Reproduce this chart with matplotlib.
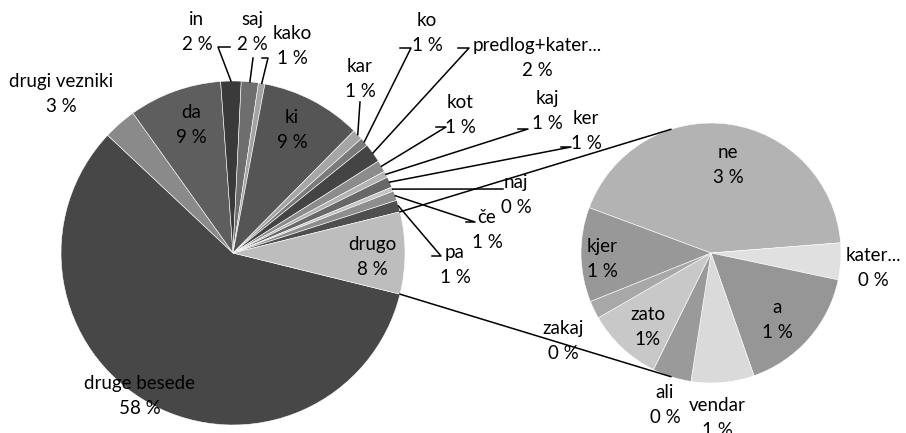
import numpy as np
import matplotlib
matplotlib.use("Agg")
import matplotlib.pyplot as plt

# main pie (percent of all words), clockwise from the "drugo" slice
main_names = ["druge besede", "drugi vezniki", "da", "in", "saj", "kako", "ki",
              "kar", "ko", "predlog+kater...", "kot", "kaj", "ker", "naj", "če", "pa"]
main_values = [57.9, 3.1, 8.7, 1.9, 1.6, 0.6, 9.4,
               1.0, 0.8, 1.8, 1.1, 0.6, 1.0, 0.4, 0.9, 1.1]
main_colors = ["#474747", "#8a8a8a", "#5e5e5e", "#3a3a3a", "#6e6e6e", "#a3a3a3", "#555555",
               "#a6a6a6", "#7a7a7a", "#444444", "#8c8c8c", "#b3b3b3", "#686868", "#c4c4c4",
               "#8e8e8e", "#4f4f4f"]
other_name = "drugo"
other_color = "#bdbdbd"

# second pie: contents of "drugo"
sub_names = ["ne", "kater...", "a", "vendar", "ali", "zato", "zakaj", "kjer"]
sub_values = [3.3, 0.35, 1.25, 0.6, 0.37, 0.72, 0.17, 0.9]
sub_colors = ["#b3b3b3", "#e0e0e0", "#969696", "#dadada", "#9a9a9a", "#c8c8c8", "#a8a8a8", "#989898"]

W, H = 906, 433
total = sum(main_values) + sum(sub_values)

def py(y):
    return H - y

def pct(name, v):
    sep = "" if name == "zato" else " "
    return f"{name}\n{v / total * 100:.0f}{sep}%"

fig = plt.figure(figsize=(W / 100, H / 100), dpi=100)
ax = fig.add_axes([0, 0, 1, 1])
plt.rcParams["font.family"] = ["Lato", "DejaVu Sans"]

c1, r1 = (233, py(253)), 172
c2, r2 = (711, py(253)), 130

vals1 = main_values + [sum(sub_values)]
other_deg = vals1[-1] / sum(vals1) * 360
w1, _ = ax.pie(vals1, colors=main_colors + [other_color], center=c1, radius=r1,
               startangle=-other_deg / 2, counterclock=False,
               wedgeprops=dict(edgecolor="white", linewidth=0.4))
w2, _ = ax.pie(sub_values, colors=sub_colors, center=c2, radius=r2,
               startangle=159.6, counterclock=False,
               wedgeprops=dict(edgecolor="white", linewidth=0.4))

def edge_pt(c, r, ang):
    a = np.radians(ang)
    return c[0] + r * np.cos(a), c[1] + r * np.sin(a)

# connector lines between the pies
d = w1[-1]
for ang1, ang2 in [(d.theta2, 108), (d.theta1, -108)]:
    x0, y0 = edge_pt(c1, r1, ang1)
    x1, y1 = edge_pt(c2, r2, ang2)
    ax.plot([x0, x1], [y0, y1], color="black", lw=1.1, zorder=1)

fs = 13.5
ls = 1.55
# label positions (pixel centres) and leader elbows (None = label inside the slice)
main_pos = {
    "druge besede": (140, 396, None),
    "drugi vezniki": (61, 94, None),
    "da": (191, 125, None),
    "in": (197, 32, [(218, 47), (230, 47)]),
    "saj": (252, 32, [(253, 58)]),
    "kako": (292, 46, [(268, 58), (262, 58)]),
    "ki": (292, 130, None),
    "kar": (360, 79, [(360, 102)]),
    "ko": (427, 33, [(411, 48), (400, 48)]),
    "predlog+kater...": (537, 58, [(469, 48), (458, 48)]),
    "kot": (460, 115, [(446, 127), (436, 127)]),
    "kaj": (547, 111, [(528, 129), (518, 129)]),
    "ker": (586, 131, [(571, 147), (561, 147)]),
    "naj": (516, 195, [(503, 189)]),
    "če": (487, 230, [(475, 222), (466, 222)]),
    "pa": (455, 265, [(441, 256), (432, 256)]),
}
for w, name, v in zip(w1, main_names, main_values):
    x, y, elbows = main_pos[name]
    ax.text(x, py(y), pct(name, v), ha="center", va="center", fontsize=fs,
            linespacing=ls, color="black")
    if elbows:
        ax_, ay_ = edge_pt(c1, r1, (w.theta1 + w.theta2) / 2)
        pts = [(ex, py(ey)) for ex, ey in elbows][::-1] + [(ax_, ay_)]
        ax.plot([p[0] for p in pts], [p[1] for p in pts], color="black", lw=1.1)

ax.text(372, py(257), pct(other_name, vals1[-1]), ha="center", va="center",
        fontsize=fs, linespacing=ls)

sub_pos = {
    "ne": (728, 165), "kater...": (873, 268), "a": (777, 320), "vendar": (717, 418),
    "ali": (665, 405), "zato": (648, 327), "zakaj": (563, 341), "kjer": (602, 259),
}
for name, v in zip(sub_names, sub_values):
    x, y = sub_pos[name]
    ax.text(x, py(y), pct(name, v), ha="center", va="center", fontsize=fs,
            linespacing=ls)

ax.set_xlim(0, W)
ax.set_ylim(0, H)
ax.set_aspect("equal")
ax.axis("off")
fig.savefig("out.png", dpi=100, facecolor="white")
